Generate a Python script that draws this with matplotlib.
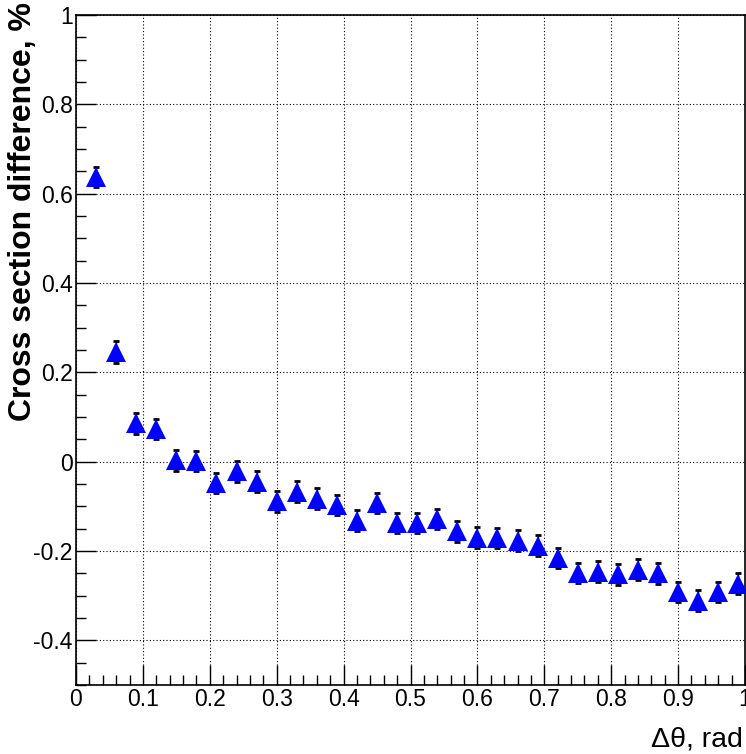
import matplotlib
matplotlib.use('Agg')
import matplotlib.pyplot as plt
from matplotlib.ticker import MultipleLocator, FuncFormatter

plt.rcParams['font.family'] = ['Liberation Sans', 'DejaVu Sans']
plt.rcParams['axes.unicode_minus'] = False

# Centros de los bines en delta theta (rad)
theta = [0.03, 0.06, 0.09, 0.12, 0.15, 0.18, 0.21, 0.24, 0.27, 0.30, 0.33,
         0.36, 0.39, 0.42, 0.45, 0.48, 0.51, 0.54, 0.57, 0.60, 0.63, 0.66,
         0.69, 0.72, 0.75, 0.78, 0.81, 0.84, 0.87, 0.90, 0.93, 0.96, 0.99]

# Diferencia de seccion eficaz (%)
diferencia = [0.637, 0.246, 0.086, 0.073, 0.003, 0.002, -0.048, -0.022, -0.045,
              -0.089, -0.067, -0.083, -0.097, -0.132, -0.093, -0.137, -0.137,
              -0.128, -0.156, -0.170, -0.171, -0.177, -0.188, -0.216, -0.249,
              -0.246, -0.252, -0.242, -0.250, -0.292, -0.311, -0.292, -0.273]

# Error estadistico de cada punto
errores = [0.023, 0.024, 0.023, 0.023, 0.023, 0.023, 0.023, 0.023, 0.023,
           0.023, 0.023, 0.023, 0.023, 0.023, 0.023, 0.023, 0.023, 0.023,
           0.023, 0.023, 0.023, 0.023, 0.023, 0.023, 0.023, 0.023, 0.023,
           0.023, 0.023, 0.023, 0.023, 0.023, 0.023]

fig = plt.figure(figsize=(7.46, 7.54), dpi=100)
ax = fig.add_axes([76 / 746, 69 / 754, 669 / 746, 670 / 754])

# Barras de error debajo, marcadores encima
ax.errorbar(theta, diferencia, yerr=errores, fmt='none', ecolor='black',
            elinewidth=1, capsize=2, capthick=2, zorder=3)
ax.plot(theta, diferencia, '^', color='blue', ms=14, mew=0, zorder=4)

ax.set_xlim(0, 1)
ax.set_ylim(-0.5, 1)
ax.xaxis.set_major_locator(MultipleLocator(0.1))
ax.xaxis.set_minor_locator(MultipleLocator(0.02))
ax.yaxis.set_major_locator(MultipleLocator(0.2))
ax.yaxis.set_minor_locator(MultipleLocator(0.05))
fmt = FuncFormatter(lambda v, pos: '%g' % round(v, 3))
ax.xaxis.set_major_formatter(fmt)
ax.yaxis.set_major_formatter(fmt)

ax.tick_params(which='major', direction='in', length=14.4, width=1,
               labelsize=16.5, color='black')
ax.tick_params(which='minor', direction='in', length=7.2, width=1)
ax.tick_params(axis='y', pad=2.5)
ax.tick_params(axis='x', pad=2)

ax.grid(True, which='major', color='black', linestyle=(0, (1, 2)), lw=0.8)
for s in ax.spines.values():
    s.set_linewidth(1.2)

# Titulos de los ejes, alineados al final como en ROOT
fig.text(23 / 746, 1 - 2 / 754, 'Cross section difference, %', rotation=90,
         ha='center', va='top', fontsize=23, fontweight='bold')
fig.text(743 / 746, 1 - 747 / 754, 'Δθ, rad', ha='right', va='baseline',
         fontsize=20.5)

fig.savefig('out.png', dpi=100)
